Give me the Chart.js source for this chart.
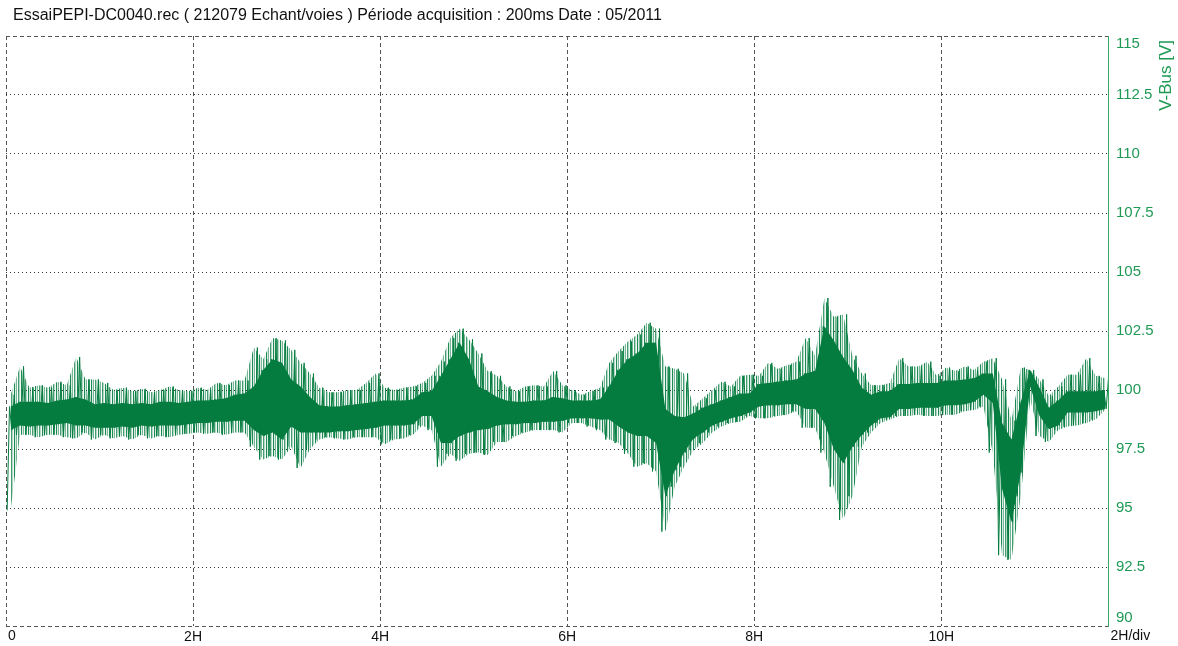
<!DOCTYPE html>
<html>
<head>
<meta charset="utf-8">
<script src="https://cdn.jsdelivr.net/npm/chart.js@4/dist/chart.umd.min.js"></script>
<style>
  html, body { margin: 0; padding: 0; background: #fff; }
  #wrap { width: 1178px; height: 646px; }
</style>
</head>
<body>
<div id="wrap"><canvas id="ch"></canvas></div>
<script>
const titleText = 'EssaiPEPI-DC0040.rec ( 212079 Echant/voies ) Période acquisition : 200ms Date : 05/2011';
const axisTitle = 'V-Bus [V]';
const divText = '2H/div';

// 212079 samples at 200 ms
const durationHours = 212079 * 0.2 / 3600;
const binHours = 0.1;

const xTicks = [0, 2, 4, 6, 8, 10];
const xTickLabels = ['0', '2H', '4H', '6H', '8H', '10H'];
const yTicks = [90, 92.5, 95, 97.5, 100, 102.5, 105, 107.5, 110, 112.5, 115];

// V-Bus, one value per 0.1 h bin: extremes...
const vMax = [
  99.8, 101.0, 100.1, 100.2, 100.1, 100.35, 100.2, 101.4, 100.45, 100.45,
  100.3, 100.0, 100.1, 99.95, 100.05, 99.9, 100.0, 100.15, 100.0, 99.95,
  100.1, 100.0, 100.3, 100.2, 100.4, 100.4, 101.8, 101.3, 102.2, 102.1,
  101.7, 101.15, 100.7, 100.1, 99.9, 99.9, 100.0, 100.0, 100.3, 100.7,
  100.1, 100.0, 100.1, 100.15, 100.3, 100.6, 101.2, 102.2, 102.6, 102.15,
  101.55, 100.8, 100.6, 100.15, 99.95, 100.15, 100.2, 100.15, 100.8, 100.2,
  100.0, 99.8, 99.95, 100.1, 101.15, 101.65, 102.05, 102.35, 102.85, 102.6,
  101.0, 100.9, 100.7, 99.3, 99.65, 100.0, 100.35, 100.15, 100.6, 100.65,
  100.6, 101.15, 100.9, 101.05, 101.2, 102.2, 101.45, 103.9, 103.1, 103.2,
  101.45, 100.7, 100.2, 100.2, 100.3, 101.35, 101.0, 101.0, 101.2, 100.6,
  100.95, 100.8, 101.0, 100.85, 101.2, 101.35, 100.45, 98.7, 100.95, 100.85,
  100.45, 99.75, 100.15, 100.65, 100.65, 101.35, 100.6, 100.5
];
const vMin = [
  94.9, 98.1, 98.1, 98.0, 98.1, 98.1, 98.0, 97.95, 98.2, 97.9,
  98.1, 97.95, 98.05, 97.9, 98.1, 97.95, 98.05, 98.0, 98.1, 98.15,
  98.2, 98.15, 98.2, 98.1, 98.2, 98.2, 97.6, 97.05, 97.2, 97.05,
  97.6, 96.7, 97.5, 97.9, 98.0, 97.95, 97.9, 98.0, 98.0, 98.0,
  97.7, 97.9, 97.95, 98.1, 98.5, 98.3, 96.75, 97.3, 97.0, 97.3,
  97.35, 97.25, 97.8, 97.8, 98.05, 98.2, 98.3, 98.3, 98.3, 98.2,
  98.6, 98.6, 98.45, 98.3, 97.9, 97.75, 97.3, 96.75, 96.9, 96.55,
  94.0, 95.9, 96.75, 97.45, 97.75, 98.2, 98.45, 98.6, 98.65, 98.9,
  98.8, 98.8, 98.9, 98.95, 99.1, 98.4, 98.4, 97.35, 95.9, 94.5,
  95.5, 97.6, 98.2, 98.6, 98.75, 98.9, 98.9, 98.95, 98.9, 98.9,
  98.95, 98.95, 99.1, 99.15, 99.3, 97.35, 93.0, 92.8, 95.5, 99.6,
  98.05, 97.8, 98.3, 98.45, 98.5, 98.6, 98.75, 99.15
];
// ...and the edges of the dense core
const coreTop = [
  99.3, 99.5, 99.5, 99.5, 99.45, 99.55, 99.6, 99.7, 99.6, 99.4,
  99.45, 99.4, 99.45, 99.4, 99.45, 99.4, 99.5, 99.5, 99.45, 99.5,
  99.55, 99.55, 99.6, 99.65, 99.8, 99.85, 100.15, 100.85, 101.3, 101.15,
  100.45, 100.15, 99.7, 99.35, 99.3, 99.3, 99.35, 99.4, 99.45, 99.5,
  99.55, 99.55, 99.55, 99.6, 99.9, 99.95, 100.6, 101.3, 102.0, 101.3,
  100.15, 99.95, 99.7, 99.55, 99.5, 99.5, 99.55, 99.55, 99.7, 99.65,
  99.55, 99.55, 99.55, 99.6, 100.15, 100.85, 101.3, 101.55, 102.0, 102.0,
  99.2, 98.9, 98.85, 99.0, 99.25, 99.4, 99.55, 99.7, 99.85, 99.85,
  100.25, 100.3, 100.35, 100.4, 100.45, 100.7, 100.8, 102.7, 102.1, 101.4,
  100.85, 100.1, 99.8, 99.95, 99.95, 100.25, 100.25, 100.3, 100.3, 100.3,
  100.4, 100.4, 100.45, 100.5, 100.7, 100.7, 98.6, 97.9, 99.5, 100.85,
  100.1, 99.25, 99.55, 99.95, 99.95, 99.95, 99.95, 100.0
];
const coreBottom = [
  98.3, 98.5, 98.45, 98.5, 98.5, 98.55, 98.6, 98.5, 98.5, 98.4,
  98.4, 98.4, 98.45, 98.4, 98.5, 98.45, 98.5, 98.5, 98.5, 98.55,
  98.6, 98.6, 98.65, 98.65, 98.7, 98.7, 98.3, 98.05, 98.2, 97.9,
  98.45, 98.2, 98.2, 98.2, 98.2, 98.25, 98.25, 98.3, 98.35, 98.4,
  98.5, 98.5, 98.5, 98.55, 98.9, 98.9, 97.75, 97.75, 98.05, 98.2,
  98.3, 98.35, 98.5, 98.55, 98.55, 98.6, 98.6, 98.65, 98.65, 98.7,
  98.8, 98.8, 98.8, 98.75, 98.75, 98.45, 98.2, 98.05, 98.05, 97.75,
  95.5, 96.6, 97.35, 97.95, 98.2, 98.5, 98.65, 98.8, 98.9, 99.05,
  99.3, 99.35, 99.35, 99.4, 99.4, 99.2, 99.2, 98.6, 97.5, 96.9,
  97.6, 98.1, 98.5, 98.8, 98.85, 99.2, 99.2, 99.25, 99.25, 99.25,
  99.35, 99.35, 99.4, 99.5, 99.8, 99.45, 95.8, 94.4, 96.5, 100.15,
  98.9, 98.35, 98.5, 99.05, 99.05, 99.05, 99.1, 99.2
];

let trace = [];
vMax.forEach((hi, i) => {
  let t = i * binHours;
  trace.push({ x: t + binHours * 0.125, y: vMin[i] });
  trace.push({ x: t + binHours * 0.375, y: coreTop[i] });
  trace.push({ x: t + binHours * 0.625, y: coreBottom[i] });
  trace.push({ x: t + binHours * 0.875, y: hi });
});
let atCentre = (arr) => arr.map((v, i) => ({ x: (i + 0.5) * binHours, y: v }));

const green = '#047c3f';
const axisGreen = '#1f9a55';
const font = '"Liberation Sans", Arial, sans-serif';

// uneven vertical hatch for the sparse fringe around the core
let hatch = (() => {
  let alphas = [0.9, 0.15, 0.55, 0, 0.75, 0.3, 0.05];
  let c = document.createElement('canvas');
  c.width = alphas.length; c.height = 1;
  let g = c.getContext('2d');
  alphas.forEach((a, i) => {
    g.fillStyle = 'rgba(4,124,63,' + a + ')';
    g.fillRect(i, 0, 1, 1);
  });
  return g.createPattern(c, 'repeat');
})();

let decor = {
  id: 'decor',
  afterDraw(chart) {
    let c = chart.ctx;
    let xs = chart.scales.x, ys = chart.scales.y;
    c.save();
    c.fillStyle = '#111';
    c.font = '16px ' + font;
    c.textBaseline = 'middle';
    c.textAlign = 'left';
    c.fillText(titleText, 13, 16);

    // first and unit labels of the time axis
    c.font = '14px ' + font;
    c.fillText(xTickLabels[0], xs.getPixelForValue(0) + 2, 636);
    c.textAlign = 'center';
    c.fillText(divText, xs.getPixelForValue(12) + 2, 636);

    // end labels of the voltage axis sit inside the frame
    c.fillStyle = axisGreen;
    c.font = '15px ' + font;
    c.textAlign = 'left';
    c.fillText(String(yTicks[yTicks.length - 1]), ys.left + 8, ys.getPixelForValue(115) + 8);
    c.fillText(String(yTicks[0]), ys.left + 8, ys.getPixelForValue(90) - 8);

    c.font = '17px ' + font;
    c.translate(1166, 40);
    c.rotate(-Math.PI / 2);
    c.textAlign = 'right';
    c.fillText(axisTitle, 0, 0);
    c.restore();
  }
};

let edge = (ctx) => ctx.tick && (ctx.tick.value === 90 || ctx.tick.value === 115);

let chart = new Chart('ch', {
  type: 'line',
  data: {
    datasets: [
      { data: trace, borderColor: green, borderWidth: 1, pointRadius: 0, fill: false },
      { data: atCentre(coreTop), borderWidth: 0, pointRadius: 0, backgroundColor: green, fill: '+1' },
      { data: atCentre(coreBottom), borderWidth: 0, pointRadius: 0, fill: false },
      { data: atCentre(vMax), borderWidth: 0, pointRadius: 0, backgroundColor: hatch, fill: '+1' },
      { data: atCentre(vMin), borderWidth: 0, pointRadius: 0, fill: false }
    ]
  },
  options: {
    animation: false,
    responsive: true,
    maintainAspectRatio: false,
    devicePixelRatio: 1,
    layout: { padding: { top: 36, left: 6, right: 0, bottom: 0 }, autoPadding: false },
    plugins: {
      legend: { display: false },
      title: { display: false },
      tooltip: { enabled: false }
    },
    scales: {
      x: {
        type: 'linear',
        min: 0,
        max: durationHours,
        afterBuildTicks: (s) => { s.ticks = xTicks.map(v => ({ value: v })); },
        afterFit: (s) => { s.height = 20; },
        ticks: {
          autoSkip: false,
          maxRotation: 0,
          padding: 3,
          color: '#111',
          font: { family: font, size: 14 },
          callback: (v, i) => i === 0 ? '' : xTickLabels[i]
        },
        grid: { color: '#555', lineWidth: 1, drawTicks: false },
        border: { display: false, dash: [4, 3] }
      },
      y: {
        position: 'right',
        min: 90,
        max: 115,
        afterBuildTicks: (s) => { s.ticks = yTicks.map(v => ({ value: v })); },
        afterFit: (s) => { s.width = 70; },
        ticks: {
          padding: 8,
          color: axisGreen,
          font: { family: font, size: 15 },
          callback: (v) => (v === 90 || v === 115) ? '' : String(v)
        },
        grid: {
          color: (ctx) => edge(ctx) ? '#555' : '#333',
          lineWidth: 1,
          drawTicks: false
        },
        border: {
          display: true,
          color: '#3aa864',
          width: 1,
          dash: (ctx) => edge(ctx) ? [4, 3] : [1, 3]
        }
      }
    }
  },
  plugins: [decor]
});
</script>
</body>
</html>
